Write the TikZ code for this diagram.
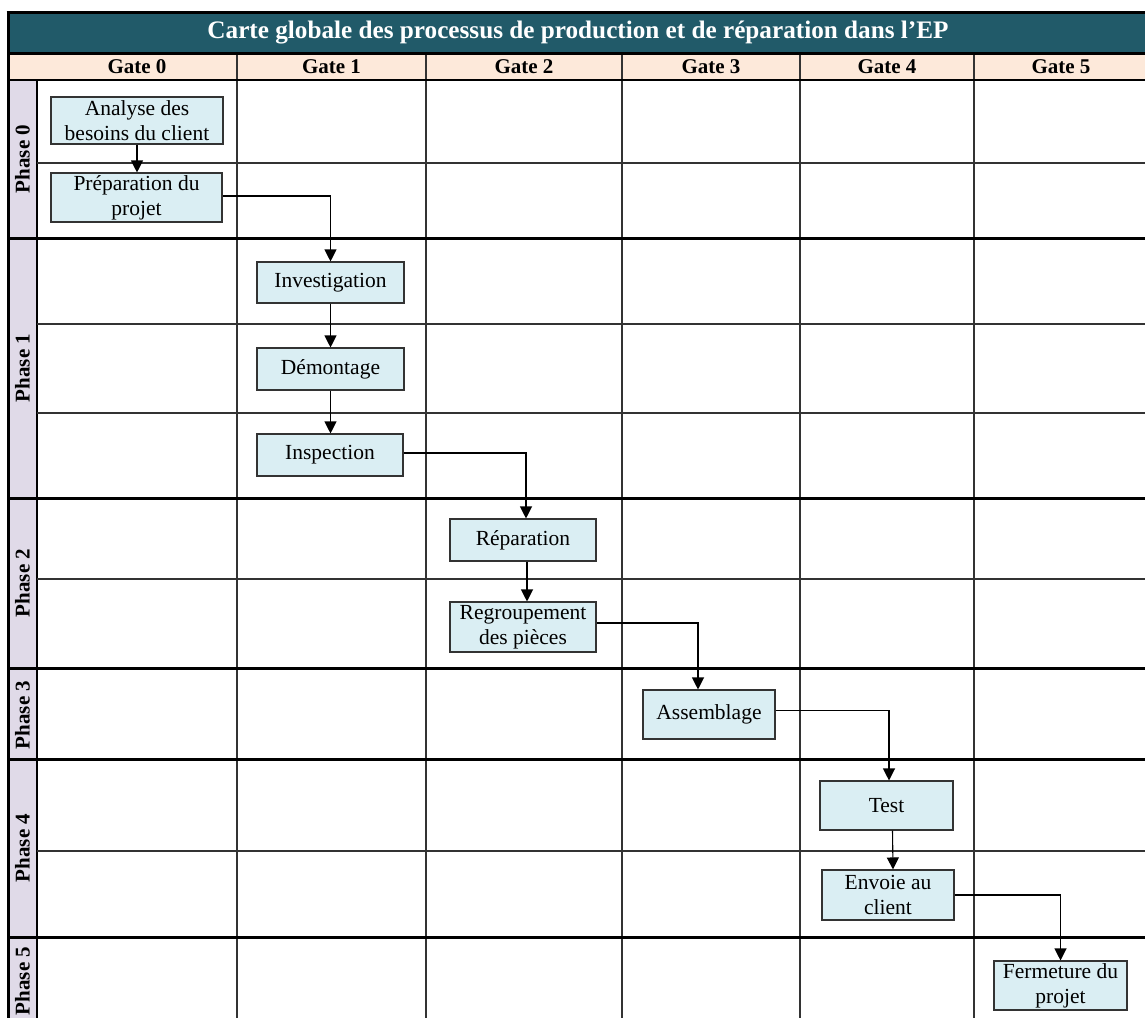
\documentclass[tikz,border=0pt]{standalone}
\usepackage{fontspec}
\setmainfont{Liberation Serif}
\usetikzlibrary{arrows.meta}

\definecolor{titleteal}{HTML}{215A69}
\definecolor{headpeach}{HTML}{FDE9DA}
\definecolor{phaselav}{HTML}{E0DAE8}
\definecolor{boxblue}{HTML}{DAEEF3}
\definecolor{gridgray}{HTML}{333333}

\tikzset{
  procbox/.style={draw=gridgray, line width=1.1pt, fill=boxblue, inner sep=0pt,
    align=center, font=\fontsize{21.5}{25}\selectfont},
  flow/.style={line width=1.1pt, -{Triangle[width=12pt,length=12pt]}},
  thinrule/.style={draw=gridgray, line width=1.3pt},
  thickrule/.style={draw=black, line width=3pt},
  headtext/.style={font=\fontsize{21}{24}\selectfont\bfseries},
  phasetext/.style={font=\fontsize{21}{24}\selectfont\bfseries, rotate=90},
}

\begin{document}
\begin{tikzpicture}[x=1pt, y=-1pt]
\useasboundingbox (0,0) rectangle (1145,1017);
\begin{scope}
\clip (0,0) rectangle (1145,1017);

% white page
\fill[white] (0,0) rectangle (1145,1017);

% title bar
\fill[titleteal] (8,12) rectangle (1150,53);
\node[font=\fontsize{25.2}{28}\selectfont\bfseries, text=white] (title) at (578,32.5)
  {Carte globale des processus de production et de réparation dans l’EP};

% header row
\fill[headpeach] (8,53) rectangle (1150,80);

% phase column
\fill[phaselav] (8,80) rectangle (37,1030);

% column separators
\foreach \x in {237,426,622,800,974} {
  \draw[thinrule] (\x,53) -- (\x,1030);
}
\draw[draw=black, line width=2pt] (37,80) -- (37,1030);

% sub-row separators
\foreach \y in {163,324,413,579,851} {
  \draw[thinrule] (37,\y) -- (1150,\y);
}

% phase separators
\foreach \y in {238,498,668,759,937} {
  \draw[thickrule] (8,\y) -- (1150,\y);
}
\draw[thickrule] (8,53) -- (1150,53);
\draw[draw=black, line width=2.2pt] (8,80) -- (1150,80);
\draw[thickrule] (6.5,12) -- (1150,12);
\draw[thickrule] (8,12) -- (8,1030);

% gate headers
\node[headtext] (g0) at (137,66.5) {Gate 0};
\node[headtext] (g1) at (331.5,66.5) {Gate 1};
\node[headtext] (g2) at (524,66.5) {Gate 2};
\node[headtext] (g3) at (711,66.5) {Gate 3};
\node[headtext] (g4) at (887,66.5) {Gate 4};
\node[headtext] (g5) at (1061,66.5) {Gate 5};

% phase labels
\node[phasetext] (p0) at (22.5,159) {Phase 0};
\node[phasetext] (p1) at (22.5,368) {Phase 1};
\node[phasetext] (p2) at (22.5,583) {Phase 2};
\node[phasetext] (p3) at (22.5,715) {Phase 3};
\node[phasetext] (p4) at (22.5,848) {Phase 4};
\node[phasetext] (p5) at (22.5,981) {Phase 5};

% process steps
\node[procbox, minimum width=172pt, minimum height=47pt] (analyse) at (137,120.5)
  {Analyse des\\besoins du client};
\node[procbox, minimum width=171pt, minimum height=49pt] (prep) at (136.5,197.5)
  {Préparation du\\projet};
\node[procbox, minimum width=147pt, minimum height=41pt] (invest) at (330.5,282.5)
  {Investigation};
\node[procbox, minimum width=147pt, minimum height=42pt] (demont) at (330.5,369)
  {Démontage};
\node[procbox, minimum width=146pt, minimum height=42pt] (inspect) at (330,455)
  {Inspection};
\node[procbox, minimum width=146pt, minimum height=42pt] (repar) at (523,540)
  {Réparation};
\node[procbox, minimum width=146pt, minimum height=50pt] (regroup) at (523,627)
  {Regroupement\\des pièces};
\node[procbox, minimum width=132pt, minimum height=49pt] (assembl) at (709,714.5)
  {Assemblage};
\node[procbox, minimum width=133pt, minimum height=49pt] (test) at (886.5,805.5)
  {Test};
\node[procbox, minimum width=132pt, minimum height=50pt] (envoie) at (888,895)
  {Envoie au\\client};
\node[procbox, minimum width=133pt, minimum height=49pt] (ferm) at (1060.5,985.5)
  {Fermeture du\\projet};

% flow connectors
\draw[flow] (analyse.south) -- (analyse.south |- prep.north);
\draw[flow] ([yshift=1.5pt]prep.east) -| (invest.north);
\draw[flow] (invest.south) -- (invest.south |- demont.north);
\draw[flow] (demont.south) -- (demont.south |- inspect.north);
\draw[flow] ([yshift=2pt]inspect.east) -| ([xshift=3pt]repar.north);
\draw[flow] ([xshift=4pt]repar.south) -- ([xshift=4pt]regroup.north);
\draw[flow] ([yshift=4pt]regroup.east) -| ([xshift=-11pt]assembl.north);
\draw[flow] ([yshift=4pt]assembl.east) -| ([xshift=2.5pt]test.north);
\draw[flow] ([xshift=6pt]test.south) -- ([xshift=5pt]envoie.north);
\draw[flow] (envoie.east) -| (ferm.north);
\end{scope}
\end{tikzpicture}
\end{document}
